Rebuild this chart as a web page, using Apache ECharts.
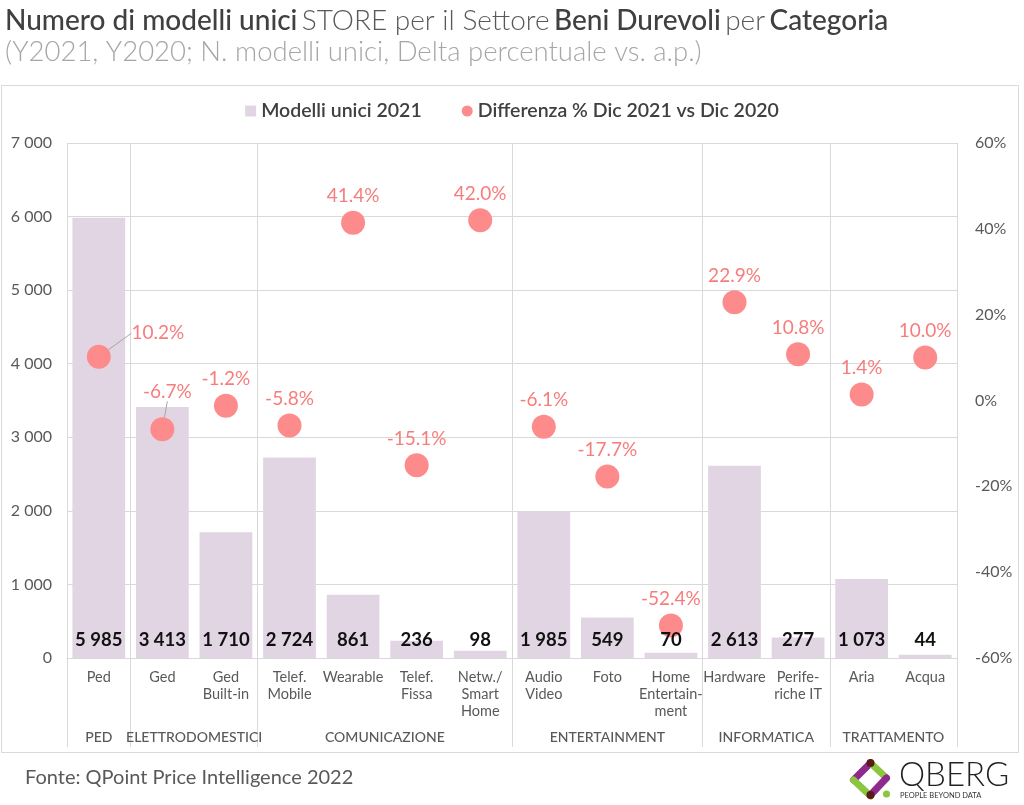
<!DOCTYPE html>
<html><head><meta charset="utf-8">
<script src="https://cdn.jsdelivr.net/npm/echarts@6/dist/echarts.min.js"></script>
<style>html,body{margin:0;padding:0;background:#fff}#c{width:1024px;height:805px}</style>
</head><body><div id="c"></div>
<script>
const categories = ['Ped','Ged','Ged\nBuilt-in','Telef.\nMobile','Wearable','Telef.\nFissa','Netw./\nSmart\nHome','Audio\nVideo','Foto','Home\nEntertain-\nment','Hardware','Perife-\nriche IT','Aria','Acqua'];
const models2021 = [5985,3413,1710,2724,861,236,98,1985,549,70,2613,277,1073,44];
const deltaPct = [10.2,-6.7,-1.2,-5.8,41.4,-15.1,42.0,-6.1,-17.7,-52.4,22.9,10.8,1.4,10.0];
const groupNames = ['PED','ELETTRODOMESTICI','COMUNICAZIONE','ENTERTAINMENT','INFORMATICA','TRATTAMENTO'];
const groupSpans = [1,2,4,3,2,2];
const leftTicks = [0,1000,2000,3000,4000,5000,6000,7000];
const rightTicks = [-60,-40,-20,0,20,40,60];

// build half-step slots for group axis
const slots = new Array(categories.length*2+1).fill('');
const boundaries = new Set([0]);
let acc = 0;
groupSpans.forEach((s,i)=>{ slots[acc + s] = groupNames[i]; acc += s*2; boundaries.add(acc); });

const fmtThousands = v => String(v).replace(/\B(?=(\d{3})+(?!\d))/g,' ');
const FONT = 'Lato';
const chart = echarts.init(document.getElementById('c'));
chart.setOption({
  animation:false,
  textStyle:{fontFamily:FONT},
  title:[{
    left:0, top:2,
    text:'{b|Numero di modelli unici} {r|STORE per il Settore} {b|Beni Durevoli} {r|per} {b|Categoria}',
    textStyle:{rich:{
      b:{fontFamily:FONT,fontSize:28,fontWeight:500,color:'#404040'},
      r:{fontFamily:FONT,fontSize:28,fontWeight:300,color:'#595959'}
    }},
    subtext:'(Y2021, Y2020; N. modelli unici, Delta percentuale vs. a.p.)',
    subtextStyle:{fontFamily:FONT,fontSize:27.5,fontWeight:300,color:'#a6a6a6'},
    itemGap:3
  }],
  legend:{
    top:96, left:'center', itemGap:40, itemWidth:11, itemHeight:11,
    textStyle:{fontFamily:FONT,fontSize:19.5,fontWeight:600,color:'#404040'},
    data:[{name:'Modelli unici 2021',icon:'rect'},{name:'Differenza % Dic 2021 vs Dic 2020',icon:'circle'}]
  },
  grid:[
    {left:67,right:67,top:143,bottom:147},
    {left:67,right:67,top:143,bottom:58}
  ],
  xAxis:[{
    type:'category', gridIndex:0, data:categories,
    axisLine:{lineStyle:{color:'#d9d9d9'}}, axisTick:{show:false},
    axisLabel:{interval:0,color:'#595959',fontSize:14.5,lineHeight:17,margin:11,fontFamily:FONT},
    splitLine:{show:false}
  },{
    type:'category', gridIndex:1, data:slots, boundaryGap:false,
    axisLine:{show:false}, axisTick:{show:false},
    axisLabel:{interval:0,inside:true,margin:3,color:'#595959',fontSize:14,fontWeight:500,fontFamily:FONT},
    splitLine:{show:true,interval:(i)=>boundaries.has(i),lineStyle:{color:'#d9d9d9',width:1}}
  }],
  yAxis:[{
    type:'value', gridIndex:0, min:leftTicks[0], max:leftTicks[leftTicks.length-1], interval:1000,
    axisLabel:{color:'#595959',fontSize:16,margin:15,formatter:v=>fmtThousands(v),fontFamily:FONT},
    axisLine:{show:false}, axisTick:{show:false},
    splitLine:{lineStyle:{color:'#d9d9d9'}}
  },{
    type:'value', gridIndex:0, position:'right', min:rightTicks[0], max:rightTicks[rightTicks.length-1], interval:20,
    axisLabel:{color:'#595959',fontSize:16,margin:18,formatter:v=>v+'%',fontFamily:FONT},
    axisLine:{show:false}, axisTick:{show:false}, splitLine:{show:false}
  },{
    type:'value', gridIndex:1, show:false
  }],
  series:[{
    name:'Modelli unici 2021', type:'bar', xAxisIndex:0, yAxisIndex:0,
    data:models2021, barCategoryGap:'17%',
    itemStyle:{color:'#e1d5e4'},
    z:2
  },{
    name:'Differenza % Dic 2021 vs Dic 2020', type:'scatter', xAxisIndex:0, yAxisIndex:1,
    data:deltaPct.map((v,i)=> i<2 ? {value:v,labelLine:{show:true}} : v),
    symbol:'circle', symbolSize:24,
    itemStyle:{color:'#fe8b8b',opacity:1},
    label:{show:true,position:'top',distance:5,color:'#f77d7d',fontSize:19,fontFamily:FONT,formatter:p=>p.value.toFixed(1)+'%'},
    labelLine:{lineStyle:{color:'#a6a6a6',width:1}},
    labelLayout:p=> p.dataIndex===0 ? {dx:59,dy:3} : (p.dataIndex===1 ? {dx:5,dy:-11} : {}),
    z:5
  },{
    name:'labels', type:'bar', xAxisIndex:0, yAxisIndex:0,
    data:models2021, barGap:'-100%', barCategoryGap:'17%',
    itemStyle:{color:'rgba(0,0,0,0)'}, silent:true,
    label:{show:true,position:'insideBottom',distance:8,color:'#111',fontSize:18.5,fontWeight:'bold',fontFamily:FONT,formatter:p=>fmtThousands(p.value)},
    z:10
  }],
  graphic:[
    {type:'rect',shape:{x:1.5,y:85.5,width:1017,height:667},style:{fill:'none',stroke:'#d9d9d9',lineWidth:1},z:-10,silent:true},
    {type:'text',left:25,top:768,style:{text:'Fonte: QPoint Price Intelligence 2022',fill:'#595959',font:'20px Lato'}},
    {type:'group',left:850,top:759,children:[
      {type:'line',shape:{x1:5,y1:22,x2:22,y2:5},style:{stroke:'#8e2a8e',lineWidth:7,lineCap:'round'}},
      {type:'line',shape:{x1:22,y1:5,x2:38,y2:20},style:{stroke:'#8cc63f',lineWidth:7,lineCap:'round'}},
      {type:'line',shape:{x1:5,y1:22,x2:22,y2:38},style:{stroke:'#8cc63f',lineWidth:7,lineCap:'round'}},
      {type:'line',shape:{x1:38,y1:20,x2:22,y2:37},style:{stroke:'#8e2a8e',lineWidth:7,lineCap:'round'}},
      {type:'circle',shape:{cx:22,cy:5,r:4},style:{fill:'#5a1a1a'}},
      {type:'circle',shape:{cx:22,cy:37,r:4},style:{fill:'#5a1a1a'}},
      {type:'circle',shape:{cx:38,cy:36,r:3.5},style:{fill:'#8cc63f'}}
    ]},
    {type:'text',left:899,top:759,style:{text:'QBERG',fill:'#222',font:'300 33px Lato'}},
    {type:'text',left:900,top:792,style:{text:'PEOPLE BEYOND DATA',fill:'#333',font:'7.5px Lato'}}
  ]
});
</script></body></html>
